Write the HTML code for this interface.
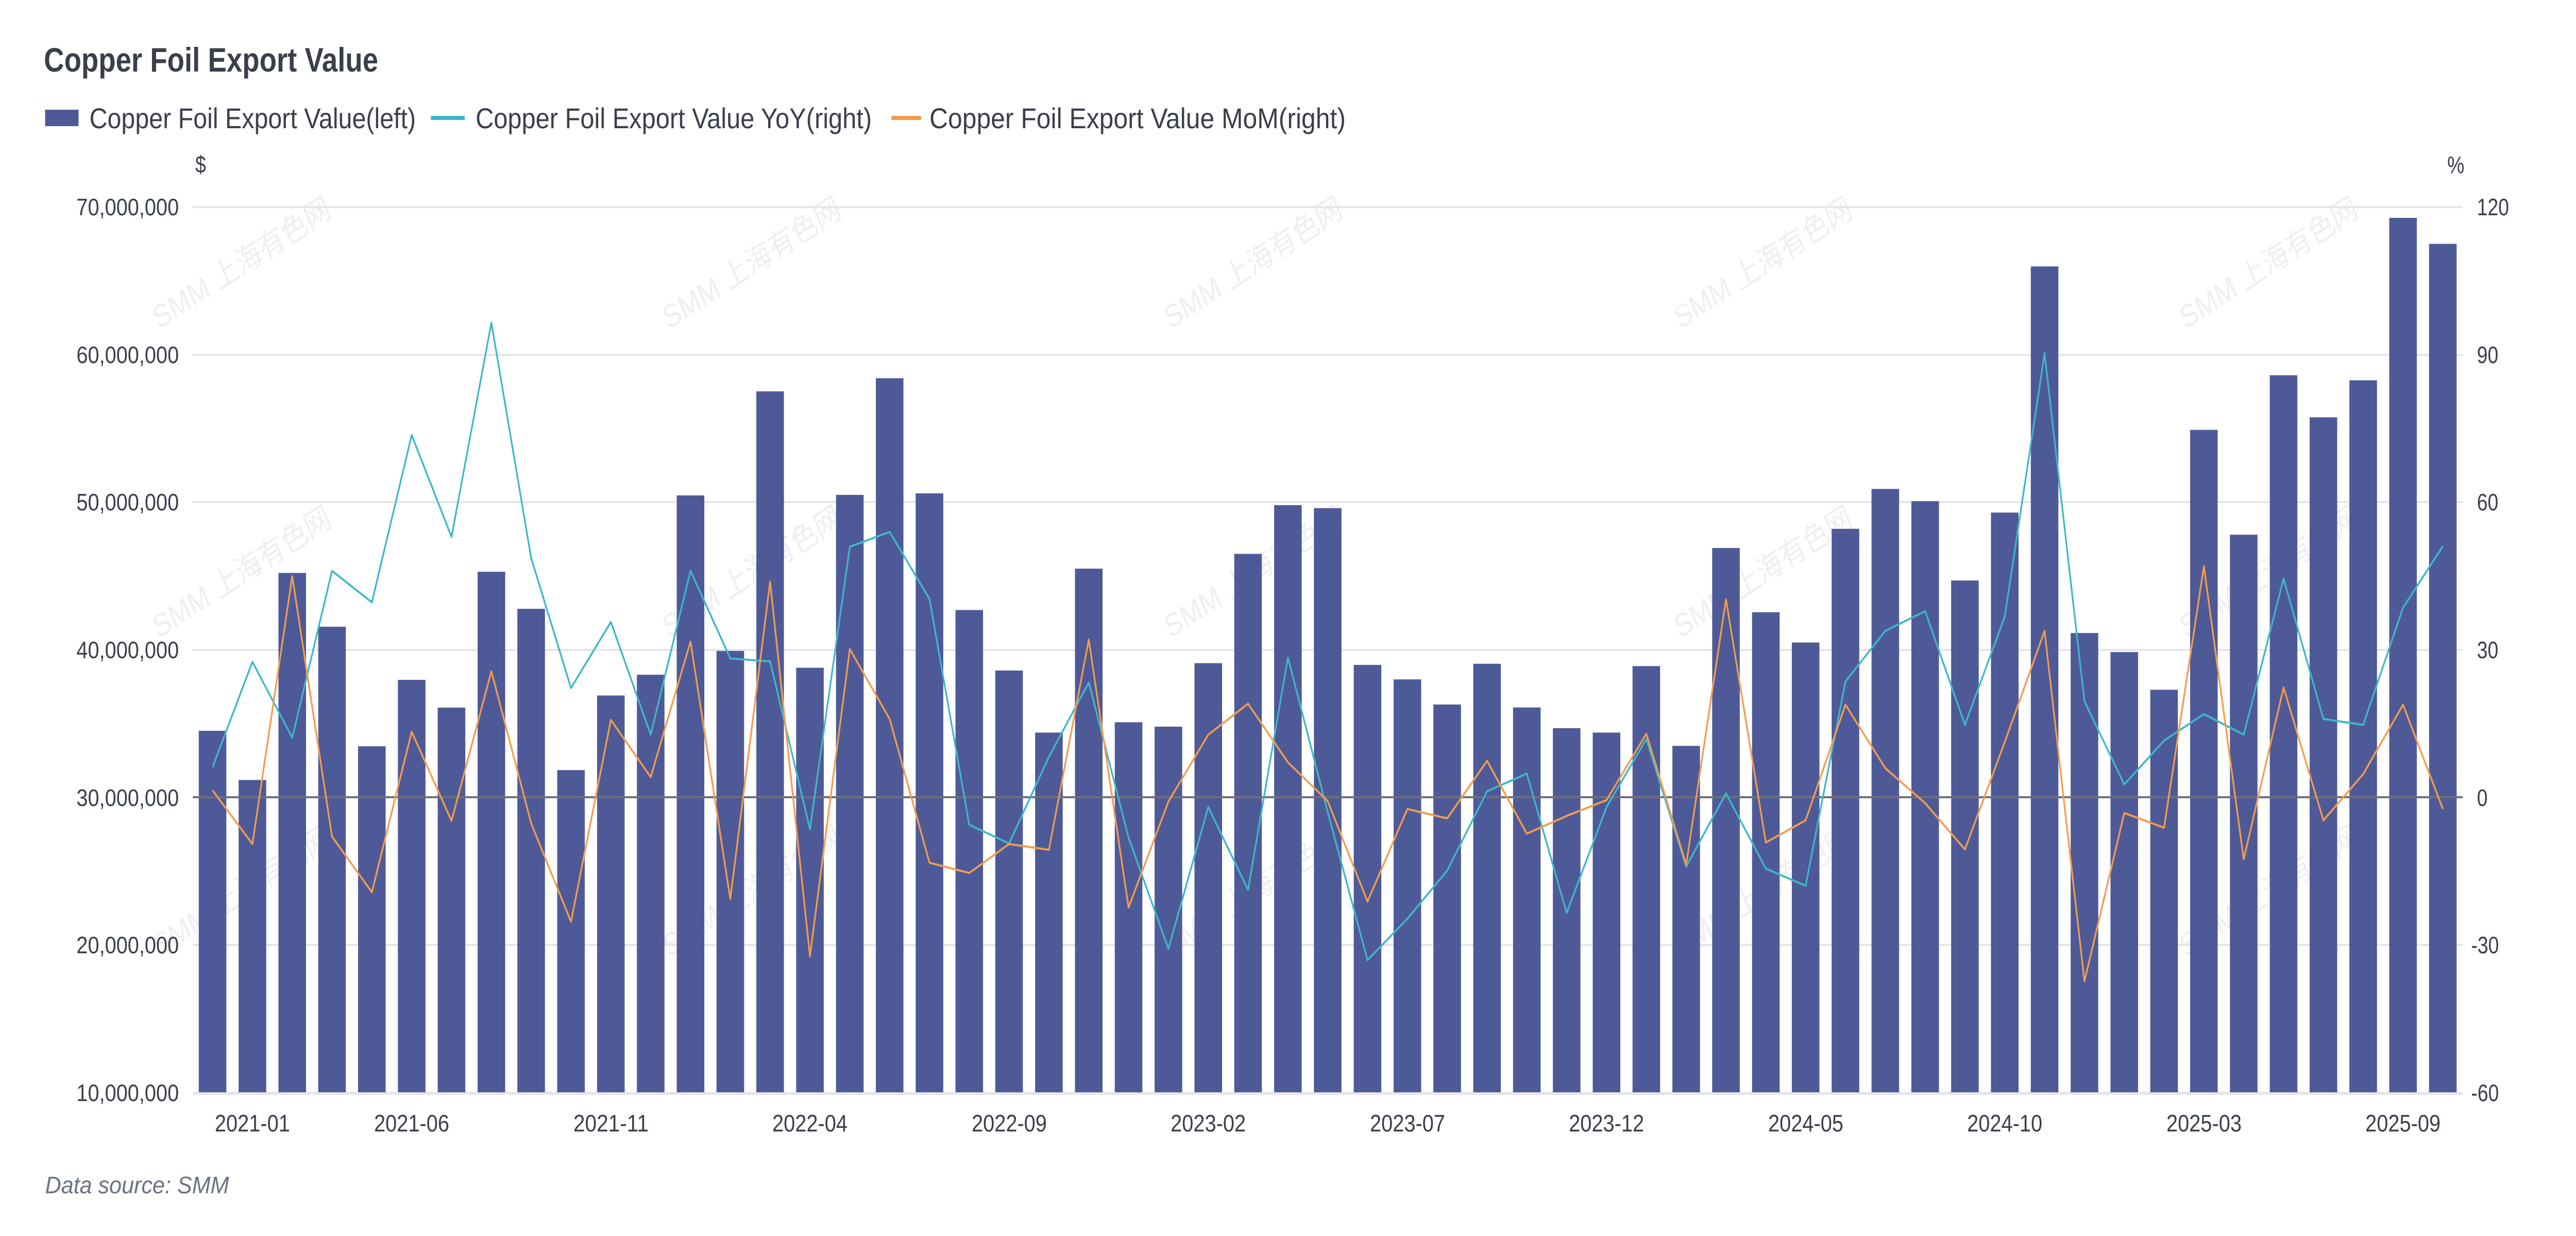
<!DOCTYPE html>
<html><head><meta charset="utf-8"><style>
html,body{margin:0;padding:0;background:#fff;width:100%;height:100%;overflow:hidden;}
svg{display:block;width:100vw;height:100vh;font-family:"Liberation Sans","Noto Sans CJK SC",sans-serif;}
</style></head><body>
<svg id="c" viewBox="0 0 6164 2400" preserveAspectRatio="none" xmlns="http://www.w3.org/2000/svg">
<rect width="6164" height="2400" fill="#fff"/>
<g font-size="62" fill="#e9e9ec" opacity="0.7">
<text transform="translate(380,640) rotate(-28)">SMM 上海有色网</text>
<text transform="translate(1600,640) rotate(-28)">SMM 上海有色网</text>
<text transform="translate(2800,640) rotate(-28)">SMM 上海有色网</text>
<text transform="translate(4020,640) rotate(-28)">SMM 上海有色网</text>
<text transform="translate(5230,640) rotate(-28)">SMM 上海有色网</text>
<text transform="translate(380,1240) rotate(-28)">SMM 上海有色网</text>
<text transform="translate(1600,1240) rotate(-28)">SMM 上海有色网</text>
<text transform="translate(2800,1240) rotate(-28)">SMM 上海有色网</text>
<text transform="translate(4020,1240) rotate(-28)">SMM 上海有色网</text>
<text transform="translate(5230,1240) rotate(-28)">SMM 上海有色网</text>
<text transform="translate(380,1860) rotate(-28)">SMM 上海有色网</text>
<text transform="translate(1600,1860) rotate(-28)">SMM 上海有色网</text>
<text transform="translate(2800,1860) rotate(-28)">SMM 上海有色网</text>
<text transform="translate(4020,1860) rotate(-28)">SMM 上海有色网</text>
<text transform="translate(5230,1860) rotate(-28)">SMM 上海有色网</text>
</g>
<text x="105" y="139" font-size="66" font-weight="bold" fill="#3a3f4b" textLength="800" lengthAdjust="spacingAndGlyphs">Copper Foil Export Value</text>
<rect x="108" y="213" width="80" height="32" fill="#4e5a97"/>
<text x="214" y="249" font-size="56" fill="#3a3f4b" textLength="781" lengthAdjust="spacingAndGlyphs">Copper Foil Export Value(left)</text>
<rect x="1031" y="225" width="81" height="8" fill="#3fb6c9"/>
<text x="1138" y="249" font-size="56" fill="#3a3f4b" textLength="948" lengthAdjust="spacingAndGlyphs">Copper Foil Export Value YoY(right)</text>
<rect x="2133" y="225" width="71" height="8" fill="#f39c4d"/>
<text x="2224" y="249" font-size="56" fill="#3a3f4b" textLength="996" lengthAdjust="spacingAndGlyphs">Copper Foil Export Value MoM(right)</text>
<g stroke="#e6e6ea" stroke-width="4">
<line x1="461" x2="5893" y1="402" y2="402"/>
<line x1="461" x2="5893" y1="689" y2="689"/>
<line x1="461" x2="5893" y1="975" y2="975"/>
<line x1="461" x2="5893" y1="1262" y2="1262"/>
<line x1="461" x2="5893" y1="1835" y2="1835"/>
<line x1="461" x2="5893" y1="2123" y2="2123" stroke-width="6"/>
</g>
<g font-size="46" fill="#3a3f4b" text-anchor="end">
<text x="480" y="335" text-anchor="middle">$</text>
<text x="428" y="418" textLength="245" lengthAdjust="spacingAndGlyphs">70,000,000</text>
<text x="428" y="705" textLength="245" lengthAdjust="spacingAndGlyphs">60,000,000</text>
<text x="428" y="991" textLength="245" lengthAdjust="spacingAndGlyphs">50,000,000</text>
<text x="428" y="1278" textLength="245" lengthAdjust="spacingAndGlyphs">40,000,000</text>
<text x="428" y="1565" textLength="245" lengthAdjust="spacingAndGlyphs">30,000,000</text>
<text x="428" y="1851" textLength="245" lengthAdjust="spacingAndGlyphs">20,000,000</text>
<text x="428" y="2138" textLength="245" lengthAdjust="spacingAndGlyphs">10,000,000</text>
</g>
<g font-size="46" fill="#3a3f4b" text-anchor="start">
<text x="5856" y="336">%</text>
<text x="5927" y="418">120</text>
<text x="5927" y="705">90</text>
<text x="5927" y="991">60</text>
<text x="5927" y="1278">30</text>
<text x="5927" y="1565">0</text>
<text x="5913" y="1851">-30</text>
<text x="5913" y="2138">-60</text>
</g>
<g font-size="46" fill="#3a3f4b" text-anchor="middle">
<text x="604" y="2197" textLength="180" lengthAdjust="spacingAndGlyphs">2021-01</text>
<text x="985" y="2197" textLength="180" lengthAdjust="spacingAndGlyphs">2021-06</text>
<text x="1462" y="2197" textLength="180" lengthAdjust="spacingAndGlyphs">2021-11</text>
<text x="1938" y="2197" textLength="180" lengthAdjust="spacingAndGlyphs">2022-04</text>
<text x="2415" y="2197" textLength="180" lengthAdjust="spacingAndGlyphs">2022-09</text>
<text x="2891" y="2197" textLength="180" lengthAdjust="spacingAndGlyphs">2023-02</text>
<text x="3368" y="2197" textLength="180" lengthAdjust="spacingAndGlyphs">2023-07</text>
<text x="3844" y="2197" textLength="180" lengthAdjust="spacingAndGlyphs">2023-12</text>
<text x="4321" y="2197" textLength="180" lengthAdjust="spacingAndGlyphs">2024-05</text>
<text x="4797" y="2197" textLength="180" lengthAdjust="spacingAndGlyphs">2024-10</text>
<text x="5274" y="2197" textLength="180" lengthAdjust="spacingAndGlyphs">2025-03</text>
<text x="5750" y="2197" textLength="180" lengthAdjust="spacingAndGlyphs">2025-09</text>
</g>
<text x="108" y="2317" font-size="46" font-style="italic" fill="#6b7280" textLength="440" lengthAdjust="spacingAndGlyphs">Data source:  SMM</text>
<g id="bars" fill="#4e5a97"></g>
<line x1="461" x2="5893" y1="1548" y2="1548" stroke="#6e7079" stroke-width="4"/>
<polyline id="yoy" fill="none" stroke="#3fb6c9" stroke-width="4" stroke-linejoin="round"/>
<polyline id="mom" fill="none" stroke="#f39c4d" stroke-width="4" stroke-linejoin="round"/>
</svg>
<script>
var bars=[34.52,31.19,45.21,41.57,33.47,37.97,36.09,45.29,42.78,31.86,36.91,38.32,50.46,39.93,57.51,
38.79,50.5,58.4,50.6,42.7,38.6,34.4,45.5,35.1,34.8,39.1,46.5,49.8,49.6,
38.98,38.0,36.3,39.06,36.1,34.7,34.4,38.9,33.5,46.9,42.55,40.5,48.2,50.9,
50.07,44.7,49.3,65.97,41.14,39.85,37.3,54.9,47.8,58.6,55.75,58.26,69.26,67.5];
var yoy=[6.1,27.5,12.1,46.0,39.6,73.6,52.9,96.4,48.6,22.2,35.6,12.7,46.0,28.2,27.6,
-6.5,50.9,53.9,40.3,-5.6,-9.4,8.2,23.3,-8.2,-30.8,-2.0,-18.8,28.4,-3.0,
-33.1,-24.7,-14.9,1.2,4.8,-23.5,-2.0,11.8,-14.1,0.8,-14.5,-18.0,23.5,33.8,
37.8,14.7,36.7,90.2,19.5,2.6,11.5,16.9,12.7,44.4,15.9,14.7,38.5,51.0];
var mom=[1.4,-9.5,44.9,-8.0,-19.3,13.3,-4.8,25.6,-5.3,-25.3,15.7,4.1,31.6,-20.7,43.8,
-32.3,30.1,15.9,-13.3,-15.4,-9.5,-10.7,32.0,-22.4,-0.9,12.7,19.0,7.1,-0.8,
-21.2,-2.4,-4.3,7.4,-7.4,-3.8,-0.6,12.9,-13.7,40.2,-9.2,-4.7,18.8,5.9,
-1.2,-10.6,11.2,33.8,-37.4,-3.2,-6.2,46.9,-12.6,22.3,-4.7,4.7,18.8,-2.4];
var ns="http://www.w3.org/2000/svg",g=document.getElementById("bars");
function cx(i){return 461+95.3*(i+0.5);}
var py=[],pm=[];
for(var i=0;i<bars.length;i++){
 var y=2122-(bars[i]-10)*28.67;
 var r=document.createElementNS(ns,"rect");
 r.setAttribute("x",(cx(i)-33).toFixed(1));r.setAttribute("y",y.toFixed(1));
 r.setAttribute("width","66");r.setAttribute("height",(2121-y).toFixed(1));
 g.appendChild(r);
 py.push(cx(i).toFixed(1)+","+(1548-yoy[i]*9.556).toFixed(1));
 pm.push(cx(i).toFixed(1)+","+(1548-mom[i]*9.556).toFixed(1));
}
document.getElementById("yoy").setAttribute("points",py.join(" "));
document.getElementById("mom").setAttribute("points",pm.join(" "));
</script>
</body></html>
